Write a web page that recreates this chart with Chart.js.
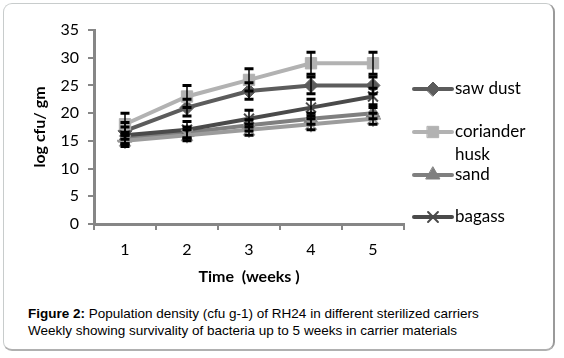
<!DOCTYPE html>
<html>
<head>
<meta charset="utf-8">
<script src="https://cdn.jsdelivr.net/npm/chart.js@4/dist/chart.umd.min.js"></script>
<style>
html,body{margin:0;padding:0;background:#fff;}
body{width:564px;height:358px;position:relative;overflow:hidden;}
#frame{position:absolute;left:3px;top:3px;width:552px;height:348px;border:1px solid #c8cccc;border-right:2px solid #9a9a9a;border-bottom:2px solid #b0b0b0;border-radius:9px;box-sizing:border-box;}
#wrap{position:absolute;left:0;top:0;width:564px;height:290px;}
#caption{position:absolute;left:28px;top:305px;font-family:"Liberation Sans",Arial,sans-serif;font-size:13.5px;line-height:17px;color:#000;white-space:nowrap;}
</style>
</head>
<body>
<div id="frame"></div>
<div id="wrap"><canvas id="c" width="564" height="290"></canvas></div>
<div id="caption"><b>Figure 2:</b> Population density (cfu g-1) of RH24 in different sterilized carriers<br>Weekly showing survivality of bacteria up to 5 weeks in carrier materials</div>
<script>
const weeks = ['1', '2', '3', '4', '5'];
const seriesNames = ['saw dust', 'coriander husk', 'sand', 'bagass', ''];
const sawDust = [16.8, 21, 24, 25, 25];
const corianderHusk = [18, 23, 26, 29, 29];
const sand = [15.5, 16.5, 17.8, 19, 20];
const bagass = [16, 17, 19, 21, 23];
const series5 = [15, 16, 17, 18, 19];
const sawDustErr = [1.5, 1.5, 1.5, 1.5, 1.5];
const corianderErr = [2, 2, 2, 2, 2];
const sandErr = [1, 1, 1, 1, 1];
const bagassErr = [1.5, 1.5, 1.5, 1.5, 1.5];
const series5Err = [1, 1, 1, 1, 1];
const yTicks = [0, 5, 10, 15, 20, 25, 30, 35];

const FONT = 'Lato, "Open Sans", sans-serif';

const styles = [
  {color:'#5c5c5c', point:'rectRot', r:7},
  {color:'#b2b2b2', point:'rect', r:8},
  {color:'#7f7f7f', point:'triangle', r:8},
  {color:'#4a4a4a', point:'crossRot', r:7},
  {color:'#9c9c9c', point:'star', r:8}
];
const values = [sawDust, corianderHusk, sand, bagass, series5];
const errs = [sawDustErr, corianderErr, sandErr, bagassErr, series5Err];

const datasets = values.map((v, i) => ({
  label: seriesNames[i],
  data: v,
  borderColor: styles[i].color,
  backgroundColor: styles[i].color,
  borderWidth: 4,
  pointStyle: styles[i].point,
  pointRadius: styles[i].r,
  pointBorderWidth: styles[i].point === 'crossRot' || styles[i].point === 'star' ? 2 : 1,
  pointBorderColor: styles[i].color,
  pointBackgroundColor: styles[i].color,
  tension: 0,
  errors: errs[i],
  order: 4 - i
}));

const errorBars = {
  id: 'errorBars',
  afterDatasetsDraw(chart) {
    const ctx = chart.ctx;
    const y = chart.scales.y;
    ctx.save();
    chart.data.datasets.forEach((ds, di) => {
      const meta = chart.getDatasetMeta(di);
      meta.data.forEach((pt, i) => {
        const v = ds.data[i], e = ds.errors[i];
        const yt = y.getPixelForValue(v + e), yb = y.getPixelForValue(v - e);
        ctx.strokeStyle = '#000';
        ctx.lineWidth = 1.5;
        ctx.beginPath(); ctx.moveTo(pt.x, yt); ctx.lineTo(pt.x, yb); ctx.stroke();
        ctx.lineWidth = 3;
        ctx.beginPath();
        ctx.moveTo(pt.x - 4.5, yt); ctx.lineTo(pt.x + 4.5, yt);
        ctx.moveTo(pt.x - 4.5, yb); ctx.lineTo(pt.x + 4.5, yb);
        ctx.stroke();
      });
    });
    ctx.restore();
  }
};

const customLegend = {
  id: 'customLegend',
  afterDraw(chart) {
    const ctx = chart.ctx;
    const rows = [
      {i:0, y:89, lines:['saw dust']},
      {i:1, y:132, lines:['coriander', 'husk']},
      {i:2, y:175, lines:['sand']},
      {i:3, y:217, lines:['bagass']}
    ];
    ctx.save();
    rows.forEach(r => {
      const s = styles[r.i];
      ctx.strokeStyle = s.color;
      ctx.lineWidth = 4;
      ctx.lineCap = 'round';
      ctx.beginPath(); ctx.moveTo(414, r.y); ctx.lineTo(452, r.y); ctx.stroke();
      ctx.fillStyle = s.color;
      ctx.lineWidth = s.point === 'crossRot' ? 2 : 1;
      Chart.helpers.drawPoint(ctx, {pointStyle: s.point, radius: s.r, rotation: 0, borderWidth: ctx.lineWidth}, 433, r.y);
      ctx.fillStyle = '#000';
      ctx.font = '17px ' + FONT;
      ctx.textBaseline = 'middle';
      ctx.textAlign = 'left';
      r.lines.forEach((t, k) => ctx.fillText(t, 455, r.y + k * 23));
    });
    ctx.restore();
  }
};

new Chart(document.getElementById('c'), {
  type: 'line',
  data: { labels: weeks, datasets: datasets },
  options: {
    responsive: false,
    animation: false,
    devicePixelRatio: 1,
    layout: { padding: { left: 0, right: 160, top: 30, bottom: 0 } },
    plugins: { legend: { display: false }, tooltip: { enabled: false } },
    scales: {
      x: {
        type: 'category',
        offset: true,
        grid: { display: true, drawOnChartArea: false, drawTicks: true, tickLength: 6, color: '#868686', lineWidth: 2, offset: true },
        border: { display: true, color: '#868686', width: 3 },
        ticks: { color: '#000', font: { family: FONT, size: 16 }, padding: 10 },
        title: { display: true, text: 'Time  (weeks )', color: '#000', font: { family: FONT, size: 16, weight: 'bold' }, padding: { top: 2 } },
        afterFit(s) { s.height = 66; }
      },
      y: {
        min: 0, max: 35,
        afterBuildTicks(s) { s.ticks = yTicks.map(v => ({ value: v })); },
        grid: { display: true, drawOnChartArea: false, drawTicks: true, tickLength: 6, color: '#868686', lineWidth: 2 },
        border: { display: true, color: '#868686', width: 3 },
        ticks: { color: '#000', font: { family: FONT, size: 16 }, padding: 9 },
        title: { display: true, text: 'log cfu/ gm', color: '#000', font: { family: FONT, size: 16, weight: 'bold' }, padding: { top: 30, bottom: 4 } },
        afterFit(s) { s.width = 94; }
      }
    }
  },
  plugins: [errorBars, customLegend]
});
</script>
</body>
</html>
